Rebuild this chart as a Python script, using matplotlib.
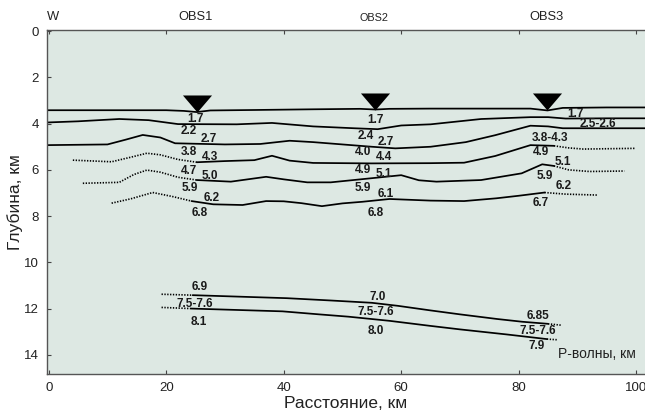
import matplotlib
matplotlib.use("Agg")
import matplotlib.pyplot as plt
import numpy as np

plt.rcParams['font.family'] = ['Liberation Sans', 'DejaVu Sans']

# ---- data (distance km, depth km) ----
seafloor_x = [-0.3, 10, 20, 23, 25.2, 27.5, 35, 45, 53, 55.6, 58, 65, 75, 82, 84.9, 87.5, 95, 101.5]
seafloor_z = [3.42, 3.42, 3.42, 3.45, 3.5, 3.43, 3.41, 3.38, 3.36, 3.39, 3.36, 3.35, 3.35, 3.35, 3.43, 3.32, 3.3, 3.3]

b2_x = [-0.3, 5, 12, 17, 22, 32, 38, 45, 52, 56, 60, 65, 73.6, 82, 85, 88, 95, 101.5]
b2_z = [3.95, 3.9, 3.8, 3.85, 4.02, 4.03, 3.97, 4.12, 4.2, 4.24, 4.08, 4.03, 3.8, 3.72, 3.72, 3.78, 3.77, 3.77]

b3_x = [-0.3, 10, 13, 16, 19, 21.5, 30, 36, 41, 45, 50, 55, 59, 65, 71, 76, 82, 85, 87.5, 101.5]
b3_z = [4.93, 4.9, 4.7, 4.49, 4.6, 4.85, 4.9, 4.88, 4.74, 4.8, 4.9, 5.0, 5.07, 5.0, 4.8, 4.5, 4.09, 4.12, 4.2, 4.2]

b4_left_x = [4.1, 10.7, 14, 16.7, 19, 22, 25.2]
b4_left_z = [5.58, 5.65, 5.45, 5.28, 5.35, 5.55, 5.67]
b4_x = [25.2, 30, 35, 38, 41, 45, 55, 65, 70.7, 76, 82, 86]
b4_z = [5.67, 5.62, 5.58, 5.39, 5.6, 5.7, 5.72, 5.71, 5.69, 5.4, 4.93, 4.96]
b4_right_x = [86, 88.5, 91, 99.7]
b4_right_z = [4.96, 5.05, 5.1, 5.07]

b5_left_x = [5.8, 12, 14.5, 16.7, 19, 22, 25.2]
b5_left_z = [6.58, 6.54, 6.2, 6.01, 6.1, 6.32, 6.44]
b5_x = [25.2, 31, 37, 40, 44, 48, 55, 60, 63, 66, 73.6, 80.5, 84, 86]
b5_z = [6.44, 6.51, 6.3, 6.41, 6.54, 6.54, 6.36, 6.23, 6.45, 6.51, 6.44, 6.15, 5.76, 5.83]
b5_right_x = [86, 88.5, 92, 98]
b5_right_z = [5.83, 6.0, 6.07, 6.05]

b6_left_x = [10.7, 14, 17.7, 21, 24.3]
b6_left_z = [7.44, 7.25, 6.98, 7.15, 7.35]
b6_x = [24.3, 28, 33, 37, 40, 43, 46.5, 50, 53.4, 58, 65, 70.7, 76.2, 80, 84.4]
b6_z = [7.35, 7.49, 7.52, 7.35, 7.36, 7.44, 7.57, 7.45, 7.38, 7.26, 7.33, 7.35, 7.23, 7.12, 6.98]
b6_right_x = [84.4, 88, 93.4]
b6_right_z = [6.98, 7.05, 7.09]

b7_left_x = [19.2, 24.5]
b7_left_z = [11.38, 11.42]
b7_x = [24.5, 40.5, 48, 55, 59.4, 65, 70, 76.3, 80.6, 85]
b7_z = [11.42, 11.55, 11.65, 11.75, 11.88, 12.08, 12.25, 12.45, 12.57, 12.66]
b7_right_x = [85, 87.3]
b7_right_z = [12.66, 12.72]

b8_left_x = [19.2, 24.3]
b8_left_z = [11.95, 12.0]
b8_x = [24.3, 39.8, 46, 51, 58, 65, 70, 78, 84.8]
b8_z = [12.0, 12.12, 12.25, 12.35, 12.53, 12.75, 12.9, 13.12, 13.32]
b8_right_x = [84.8, 86.6]
b8_right_z = [13.32, 13.35]

obs_names = ['OBS1', 'OBS2', 'OBS3']
obs_x = [25.2, 55.6, 84.9]

vel_labels = ['1.7', '2.2', '2.7', '3.8', '4.3', '4.7', '5.0', '5.9', '6.2', '6.8',
              '1.7', '2.4', '2.7', '4.0', '4.4', '4.9', '5.1', '5.9', '6.1', '6.8',
              '1.7', '2.5-2.6', '3.8-4.3', '4.9', '5.1', '5.9', '6.2', '6.7',
              '6.9', '7.5-7.6', '8.1', '7.0', '7.5-7.6', '8.0', '6.85', '7.5-7.6', '7.9']
vel_x = [24.9, 23.8, 27.3, 23.8, 27.4, 23.8, 27.5, 24.0, 27.7, 25.7,
         55.6, 53.9, 57.4, 53.5, 57.1, 53.5, 57.1, 53.5, 57.3, 55.6,
         89.6, 93.4, 85.3, 83.8, 87.6, 84.4, 87.6, 83.7,
         25.7, 24.9, 25.6, 56.0, 55.7, 55.6, 83.3, 83.3, 83.1]
vel_z = [3.80, 4.32, 4.68, 5.21, 5.43, 6.05, 6.27, 6.77, 7.20, 7.88,
         3.85, 4.52, 4.78, 5.21, 5.45, 6.01, 6.17, 6.80, 7.04, 7.88,
         3.59, 4.03, 4.61, 5.24, 5.65, 6.27, 6.68, 7.45,
         11.08, 11.80, 12.56, 11.48, 12.16, 12.96, 12.30, 12.96, 13.64]

xticks = [0, 20, 40, 60, 80, 100]
yticks = [0, 2, 4, 6, 8, 10, 12, 14]

# ---- figure ----
W, H = 645, 412
fig = plt.figure(figsize=(W / 100, H / 100), dpi=100)
ax = fig.add_axes([47 / W, 1 - 374 / H, (W - 47) / W, (374 - 30) / H])
ax.set_facecolor('#dde8e3')
ax.set_xlim(-0.3, 101.5)
ax.set_ylim(14.83, -0.05)

solid_kw = dict(color='black', lw=1.25, solid_capstyle='round', solid_joinstyle='round')
dot_kw = dict(color='black', lw=1.2, linestyle=(0, (0.8, 0.9)))

ax.plot(seafloor_x, seafloor_z, **solid_kw)
ax.plot(b2_x, b2_z, **solid_kw)
ax.plot(b3_x, b3_z, **solid_kw)
for lx, lz, sx, sz, rx, rz in [
    (b4_left_x, b4_left_z, b4_x, b4_z, b4_right_x, b4_right_z),
    (b5_left_x, b5_left_z, b5_x, b5_z, b5_right_x, b5_right_z),
    (b6_left_x, b6_left_z, b6_x, b6_z, b6_right_x, b6_right_z),
    (b7_left_x, b7_left_z, b7_x, b7_z, b7_right_x, b7_right_z),
    (b8_left_x, b8_left_z, b8_x, b8_z, b8_right_x, b8_right_z),
]:
    ax.plot(lx, lz, **dot_kw)
    ax.plot(sx, sz, **solid_kw)
    ax.plot(rx, rz, **dot_kw)

# OBS triangles: apex on the seafloor
obs_z = np.interp(obs_x, seafloor_x, seafloor_z)
tri = [(-1, 1.17), (1, 1.17), (0, 0), (-1, 1.17)]
ax.plot(obs_x, obs_z, linestyle='none', marker=tri, markersize=24.5,
        color='black', markeredgewidth=0, clip_on=False, zorder=5)

# velocity labels
for t, x, z in zip(vel_labels, vel_x, vel_z):
    ax.text(x, z, t, fontsize=8.5, fontweight='bold', ha='center', va='center',
            color='#1a1a1a', zorder=6)

# top labels
for name, x in zip(obs_names, obs_x):
    fs = 7.8 if name == 'OBS2' else 9.3
    ax.text(x - 0.2, -0.35, name, fontsize=fs, ha='center', va='bottom', color='#222222')
ax.text(-0.3, -0.35, 'W', fontsize=9.3, ha='left', va='bottom', color='#222222')

ax.text(100, 14.25, 'P-волны, км', fontsize=10, ha='right', va='bottom', color='#222222')

ax.set_xticks(xticks)
ax.set_yticks(yticks)
ax.tick_params(axis='both', direction='in', length=3, width=0.8, labelsize=9.5,
               colors='#444444', labelcolor='#222222', pad=6)
ax.tick_params(axis='x', top=True, labeltop=False)
for side in ['left', 'bottom', 'top']:
    ax.spines[side].set_color('#555555')
    ax.spines[side].set_linewidth(1.0)
ax.spines['right'].set_visible(False)

ax.set_xlabel('Расстояние, км', fontsize=12.5, color='#222222', labelpad=1)
ax.set_ylabel('Глубина, км', fontsize=12.5, color='#222222')
ax.yaxis.set_label_coords(-0.04, 0.5)

fig.savefig('out.png', dpi=100)
